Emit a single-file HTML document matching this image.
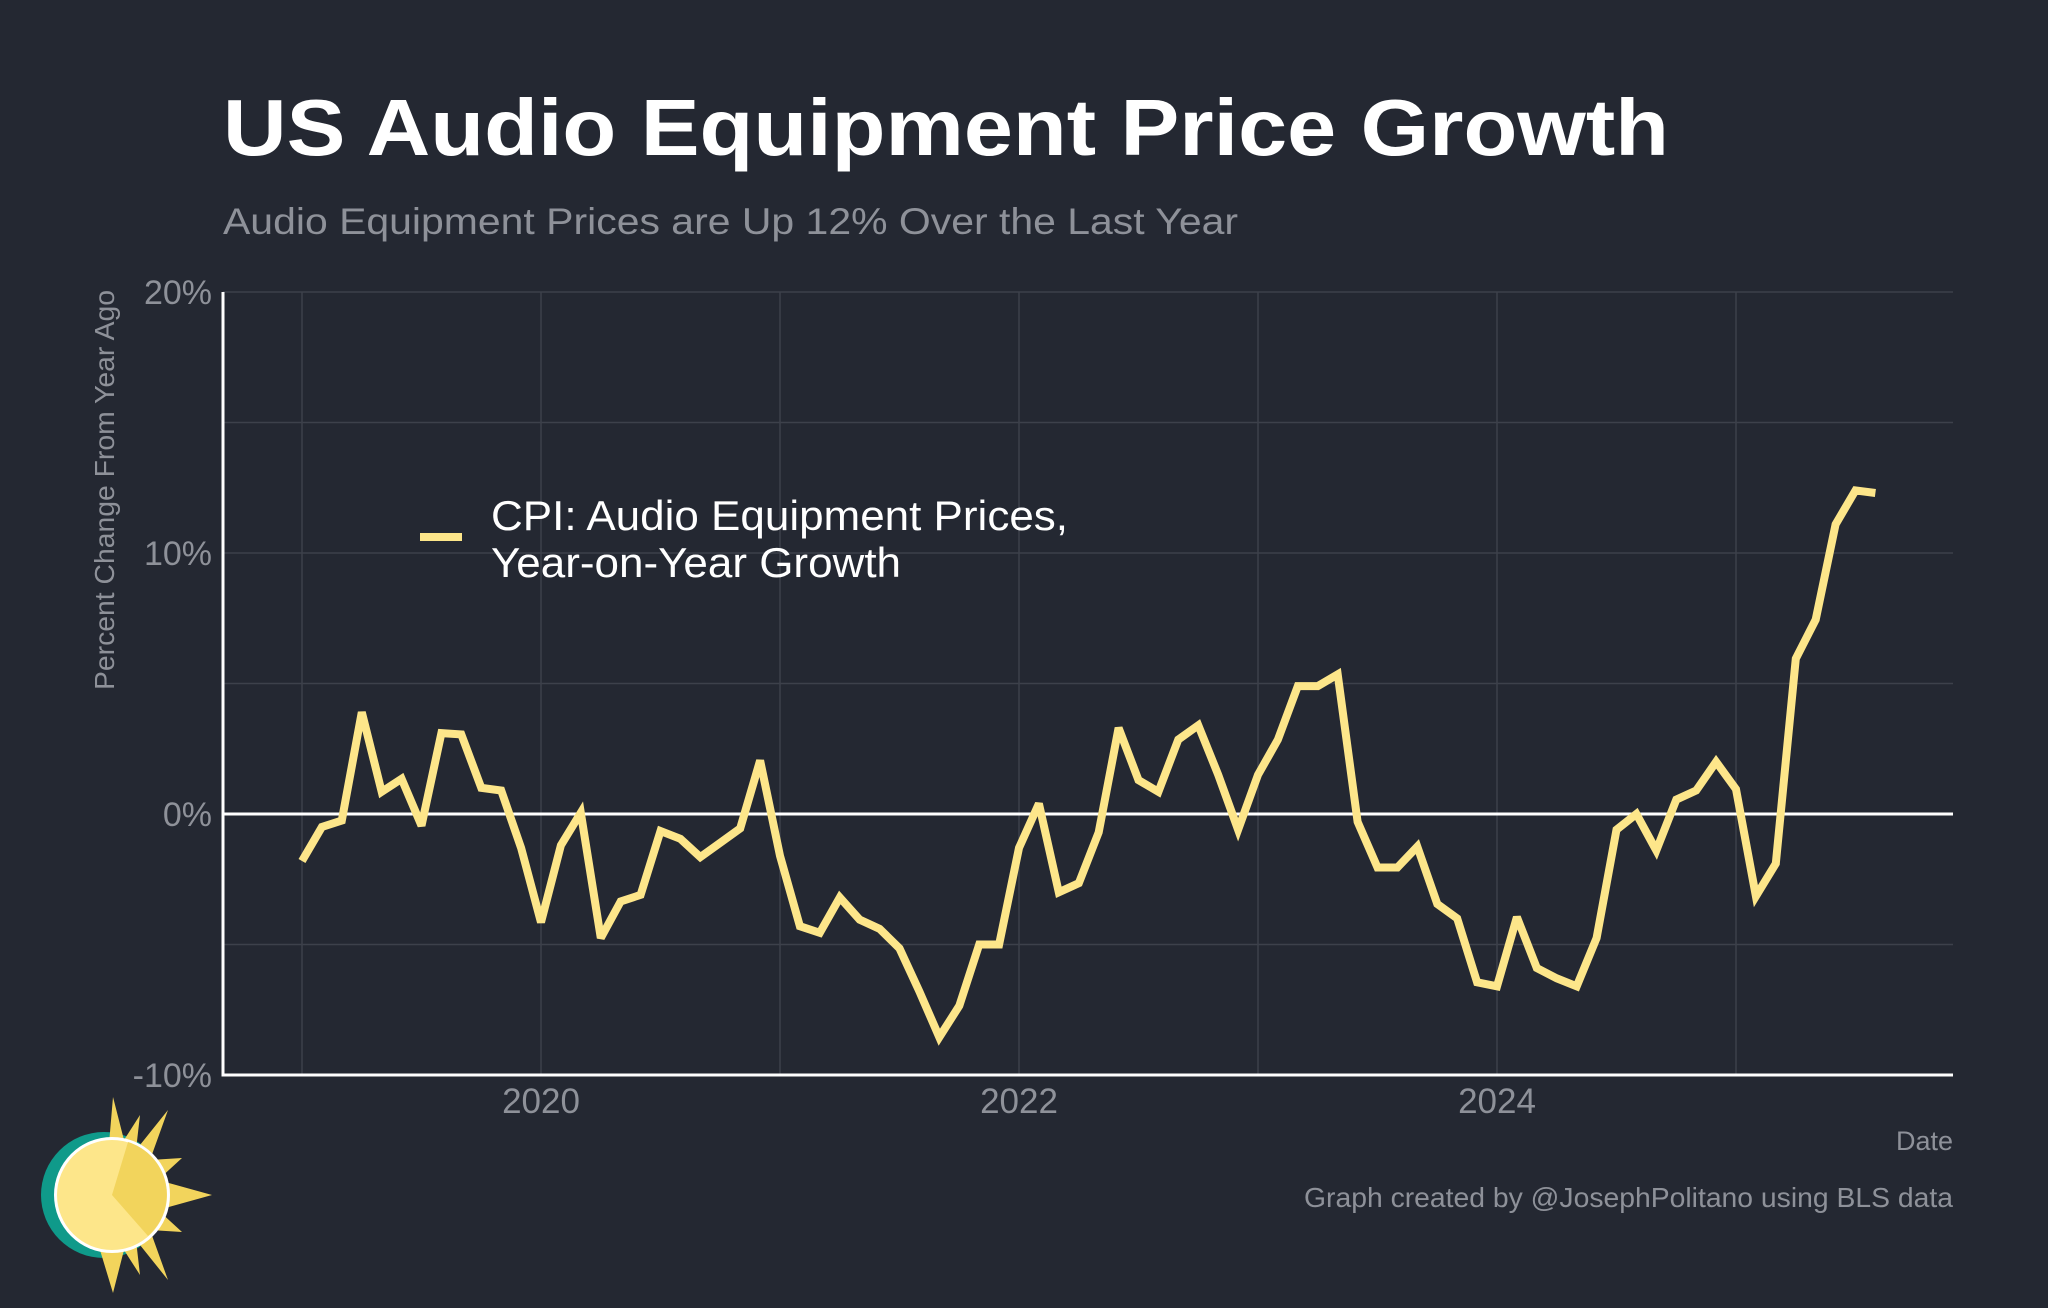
<!DOCTYPE html>
<html><head><meta charset="utf-8"><style>
html,body{margin:0;padding:0;background:#242832;}
svg{display:block;font-family:"Liberation Sans",Arial,sans-serif;}
</style></head><body>
<svg id="chart" width="2048" height="1308" viewBox="0 0 2048 1308">
<rect width="2048" height="1308" fill="#242832"/>
<text x="223" y="155" font-size="80" font-weight="bold" fill="#ffffff" textLength="1446" lengthAdjust="spacingAndGlyphs">US Audio Equipment Price Growth</text>
<text x="223" y="234" font-size="37" fill="#8e9199" textLength="1015" lengthAdjust="spacingAndGlyphs">Audio Equipment Prices are Up 12% Over the Last Year</text>
<g id="grid"></g>
<g id="axes"></g>
<text transform="translate(114,490) rotate(-90)" text-anchor="middle" font-size="28" fill="#8e9199" textLength="400" lengthAdjust="spacingAndGlyphs">Percent Change From Year Ago</text>
<text x="1953" y="1150" text-anchor="end" font-size="27" fill="#8e9199">Date</text>
<text x="1953" y="1207" text-anchor="end" font-size="28" fill="#8e9199" textLength="649" lengthAdjust="spacingAndGlyphs">Graph created by @JosephPolitano using BLS data</text>
<g>
<line x1="420" y1="537" x2="462" y2="537" stroke="#fde68a" stroke-width="8"/>
<text x="491" y="530" font-size="42" fill="#ffffff" textLength="577" lengthAdjust="spacingAndGlyphs">CPI: Audio Equipment Prices,</text>
<text x="491" y="577" font-size="42" fill="#ffffff" textLength="410" lengthAdjust="spacingAndGlyphs">Year-on-Year Growth</text>
</g>
<g>
<circle cx="104" cy="1195" r="63" fill="#0f9a8a"/>
<polygon points="113,1097 124,1140 140,1115 136,1150 168,1110 150,1160 182,1158 158,1180 212,1195 158,1210 182,1232 150,1230 168,1280 136,1240 140,1275 124,1250 113,1293 100,1250" fill="#f2d45c"/>
<circle cx="112" cy="1195" r="58" fill="#ffffff"/>
<circle cx="112" cy="1195" r="55" fill="#fde68a"/>
<path d="M112,1195 L128,1142 A55,55 0 0 1 148,1236 Z" fill="#f2d45c"/>
</g>
<g id="series"></g>
</svg>
<script>
const startYear = 2019;
const values = [-1.8,-0.5,-0.25,3.9,0.85,1.35,-0.45,3.1,3.05,1.0,0.9,-1.3,
-4.15,-1.2,0.05,-4.75,-3.35,-3.1,-0.65,-0.95,-1.65,-1.1,-0.55,2.05,
-1.6,-4.3,-4.55,-3.2,-4.05,-4.4,-5.15,-6.8,-8.55,-7.35,-5.0,-5.0,
-1.3,0.4,-3.0,-2.65,-0.7,3.3,1.3,0.85,2.85,3.4,1.5,-0.6,
1.5,2.85,4.9,4.9,5.35,-0.3,-2.05,-2.05,-1.25,-3.45,-4.0,-6.45,
-6.6,-3.95,-5.9,-6.3,-6.6,-4.75,-0.6,0.0,-1.4,0.55,0.9,2.0,
0.95,-3.15,-1.9,5.95,7.45,11.1,12.4,12.3];
const yTicks = [-10,-5,0,5,10,15,20];
const yTickLabels = {"-10":"-10%","0":"0%","10":"10%","20":"20%"};
const xGridYears = [2019,2020,2021,2022,2023,2024,2025];
const xTickLabels = [2020,2022,2024];

const NS="http://www.w3.org/2000/svg";
const L=223,R=1953,T=292,B=1075;
const yMin=-10,yMax=20;
function ys(v){return B-(v-yMin)/(yMax-yMin)*(B-T);}
function xs(monthsFrom2019){return 302+monthsFrom2019*(239/12);}
function mk(tag,attrs,parent){const e=document.createElementNS(NS,tag);for(const k in attrs)e.setAttribute(k,attrs[k]);parent.appendChild(e);return e;}
const grid=document.getElementById('grid'),axes=document.getElementById('axes'),series=document.getElementById('series');
yTicks.forEach(v=>{
  if(v!==yMin && v!==0){
    const l=mk('line',{x1:L,x2:R,y1:ys(v),y2:ys(v),stroke:'#3d414b','stroke-width':1.5},grid);
    
    
  }
  const lab=yTickLabels[String(v)];
  if(lab){
    const t=mk('text',{x:212,y:ys(v)+12,'text-anchor':'end','font-size':34,fill:'#8e9199'},axes);
    t.textContent=lab;
    
    
  }
});
xGridYears.forEach(yr=>{
  const x=xs((yr-startYear)*12);
  const l=mk('line',{x1:x,x2:x,y1:T,y2:B,stroke:'#3d414b','stroke-width':1.5},grid);
  
  
});
xTickLabels.forEach(yr=>{
  const t=mk('text',{x:xs((yr-startYear)*12),y:1113,'text-anchor':'middle','font-size':35,fill:'#8e9199'},axes);
  t.textContent=String(yr);
  
  
});
const zl=mk('line',{x1:L,x2:R,y1:ys(0),y2:ys(0),stroke:'#ffffff','stroke-width':3},axes);


const ya=mk('line',{x1:L,x2:L,y1:T,y2:B+1.5,stroke:'#ffffff','stroke-width':3},axes);


const xa=mk('line',{x1:L,x2:R,y1:B,y2:B,stroke:'#ffffff','stroke-width':3},axes);


const pts=values.map((v,i)=>xs(i).toFixed(1)+','+ys(v).toFixed(1)).join(' ');
const pl=mk('polyline',{points:pts,fill:'none',stroke:'#fde68a','stroke-width':8,'stroke-linejoin':'miter','stroke-miterlimit':3},series);


</script>
</body></html>
